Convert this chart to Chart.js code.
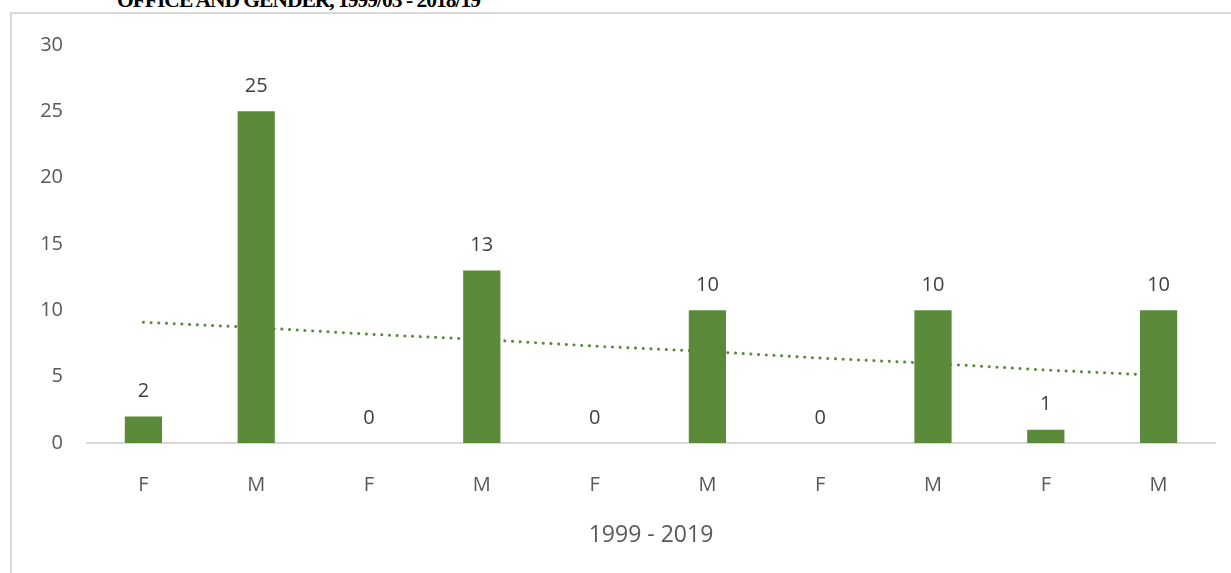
<!DOCTYPE html>
<html>
<head>
<meta charset="utf-8">
<script src="https://cdn.jsdelivr.net/npm/chart.js@4/dist/chart.umd.min.js"></script>
<style>
  body { margin: 0; background: #fff; overflow: hidden; }
  #page { position: relative; width: 1231px; height: 573px; overflow: hidden; }
  #heading {
    position: absolute; left: 117px; top: -10px;
    font: bold 21.5px/21.5px "Liberation Serif", serif; letter-spacing: -1px; color: #000;
    white-space: nowrap;
  }
  #frame {
    position: absolute; left: 10px; top: 12px; width: 1221px; height: 561px;
    border-left: 2px solid #d9d9d9; border-top: 2px solid #d9d9d9;
  }
  #chart { position: absolute; left: 12px; top: 9px; }
</style>
</head>
<body>
<div id="page">
  <div id="heading">OFFICE AND GENDER, 1999/03 - 2018/19</div>
  <div id="frame"></div>
  <canvas id="chart" width="1219" height="564"></canvas>
</div>
<script>
// categories and values
const genders = ['F', 'M', 'F', 'M', 'F', 'M', 'F', 'M', 'F', 'M'];
const counts = [2, 25, 0, 13, 0, 10, 0, 10, 1, 10];
// dotted linear trend
const trend = [9.1, 8.7, 8.2, 7.8, 7.3, 6.9, 6.4, 6.0, 5.5, 5.1];
const yTicks = [0, 5, 10, 15, 20, 25, 30];

const green = '#5b8a3b';

// labels above the bars
const barLabels = {
    id: 'barLabels',
    afterDatasetsDraw(chart) {
        const ctx = chart.ctx;
        const meta = chart.getDatasetMeta(0);
        ctx.save();
        ctx.font = '20px "Open Sans"';
        ctx.fillStyle = '#404040';
        ctx.textAlign = 'center';
        ctx.textBaseline = 'middle';
        meta.data.forEach((bar, i) => {
            ctx.fillText(String(counts[i]), bar.x, bar.y - 25);
        });
        ctx.restore();
    }
};

const ctx = document.getElementById('chart').getContext('2d');
const chart = new Chart(ctx, {
    type: 'bar',
    data: {
        labels: genders,
        datasets: [{
            label: 'Count',
            data: counts,
            backgroundColor: green,
            barPercentage: 0.33,
            categoryPercentage: 1,
            order: 1
        }, {
            type: 'line',
            label: 'Trend',
            data: trend,
            borderColor: green,
            borderWidth: 3,
            borderDash: [0.1, 7.6],
            borderCapStyle: 'round',
            pointRadius: 0,
            fill: false,
            order: 2
        }]
    },
    plugins: [barLabels],
    options: {
        responsive: false,
        animation: false,
        layout: { padding: { top: 24, right: 16, left: 0, bottom: 0 } },
        plugins: {
            legend: { display: false },
            tooltip: { enabled: false }
        },
        scales: {
            x: {
                afterFit(scale) { scale.height = 130; },
                grid: { display: false, drawTicks: false },
                border: { display: true, color: '#d9d9d9', width: 2 },
                ticks: { color: '#595959', padding: 30, font: { family: 'Open Sans', size: 20, lineHeight: 1.2 } },
                title: {
                    display: true,
                    text: '1999 - 2019',
                    color: '#595959',
                    font: { family: 'Open Sans', size: 23, lineHeight: 1.2 },
                    padding: { top: 20, bottom: 24 }
                }
            },
            y: {
                min: 0,
                max: 30,
                afterBuildTicks(scale) {
                    scale.ticks = yTicks.map(v => ({ value: v }));
                },
                afterFit(scale) { scale.width = 75; },
                grid: { display: false, drawTicks: false },
                border: { display: false },
                ticks: { color: '#595959', padding: 24, font: { family: 'Open Sans', size: 20, lineHeight: 1.2 } }
            }
        }
    }
});
</script>
</body>
</html>
